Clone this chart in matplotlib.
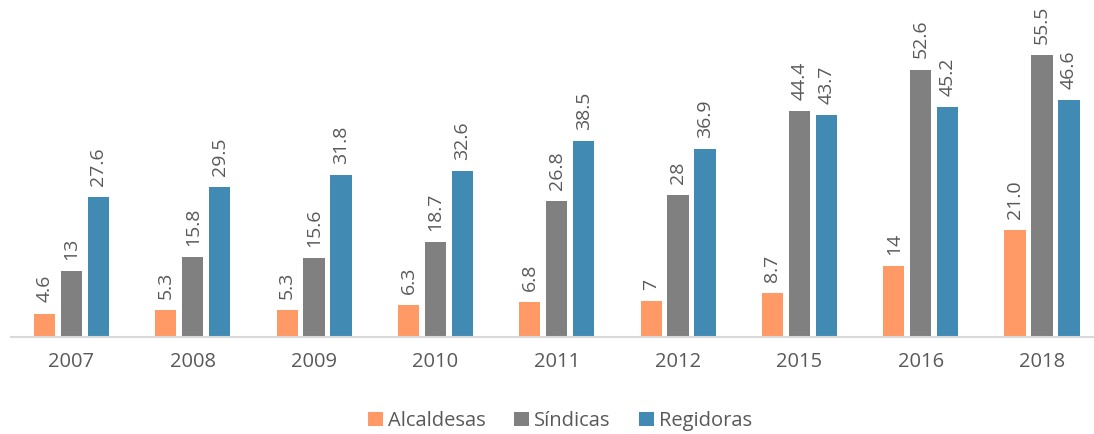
import matplotlib.pyplot as plt
import numpy as np

years = ['2007', '2008', '2009', '2010', '2011', '2012', '2015', '2016', '2018']
alcaldesas = [4.6, 5.3, 5.3, 6.3, 6.8, 7, 8.7, 14, 21.0]
sindicas = [13, 15.8, 15.6, 18.7, 26.8, 28, 44.4, 52.6, 55.5]
regidoras = [27.6, 29.5, 31.8, 32.6, 38.5, 36.9, 43.7, 45.2, 46.6]
alcaldesas_labels = ['4.6', '5.3', '5.3', '6.3', '6.8', '7', '8.7', '14', '21.0']
sindicas_labels = ['13', '15.8', '15.6', '18.7', '26.8', '28', '44.4', '52.6', '55.5']
regidoras_labels = ['27.6', '29.5', '31.8', '32.6', '38.5', '36.9', '43.7', '45.2', '46.6']

series = [
    ('Alcaldesas', alcaldesas, alcaldesas_labels, '#FF9966'),
    ('Síndicas', sindicas, sindicas_labels, '#808080'),
    ('Regidoras', regidoras, regidoras_labels, '#418AB3'),
]

plt.rcParams['font.family'] = ['Open Sans', 'DejaVu Sans']
text_color = '#595959'

fig = plt.figure(figsize=(10.94, 4.34), dpi=100)
ax = fig.add_axes([0.0099, 0.2235, 0.998, 0.703])

x = np.arange(len(years))
width = 0.175
step = 0.222

for i, (name, vals, labels, color) in enumerate(series):
    pos = x + (i - 1) * step
    bars = ax.bar(pos, vals, width, color=color, label=name)
    for b, lab in zip(bars, labels):
        ax.annotate(lab, (b.get_x() + b.get_width() / 2, b.get_height()),
                    xytext=(0, 8), textcoords='offset points',
                    rotation=90, ha='center', va='bottom',
                    fontsize=14, color=text_color)

ax.set_xlim(-0.5, len(years) - 0.5)
ax.set_ylim(0, 60)
ax.set_xticks(x)
ax.set_xticklabels(years, fontsize=14.5, color=text_color)
ax.tick_params(axis='x', length=0, pad=11)
ax.set_yticks([])
for s in ['top', 'right', 'left']:
    ax.spines[s].set_visible(False)
ax.spines['bottom'].set_color('#D9D9D9')
ax.spines['bottom'].set_linewidth(1.5)

leg = fig.legend(loc='center', bbox_to_anchor=(0.512, 0.03), ncol=3, frameon=False,
                 fontsize=14.5, handlelength=0.75, handleheight=0.75,
                 handletextpad=0.25, columnspacing=1.4)
for t in leg.get_texts():
    t.set_color(text_color)

fig.savefig('out.png', dpi=100)
